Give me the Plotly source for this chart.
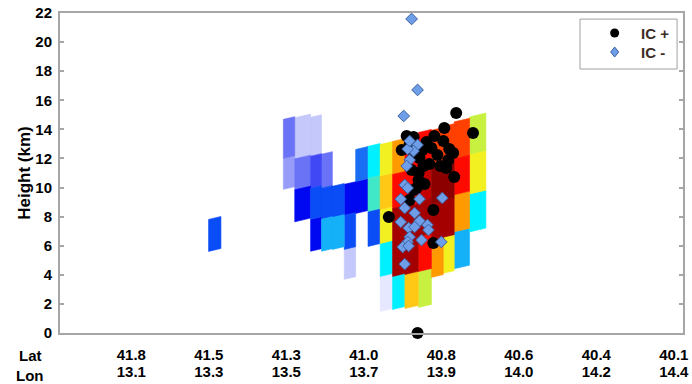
import plotly.graph_objects as go

# ---- axis labelling along the cross-section (distance in km) ----
tick_dist = [0.0, 31.3, 62.6, 93.9, 125.2, 156.5, 187.8, 219.1]
tick_lat = ["41.8", "41.5", "41.3", "41.0", "40.8", "40.6", "40.4", "40.1"]
tick_lon = ["13.1", "13.3", "13.5", "13.7", "13.9", "14.0", "14.2", "14.4"]

# ---- radar reflectivity columns ----
col_left = [31.2, 61.4, 66.0, 72.4, 76.8, 81.2, 86.0, 90.6, 95.6,
            100.5, 105.5, 110.5, 115.9, 121.2, 126.0, 130.4, 136.6]
col_right = [36.2, 66.0, 72.4, 76.8, 81.2, 86.0, 90.6, 95.6, 100.5,
             105.5, 110.5, 115.9, 121.2, 126.0, 130.4, 136.6, 143.2]
# cell boundaries (km, bottom to top) for each column
col_bounds = [
    [5.71, 7.91],
    [9.97, 12.10, 14.78],
    [7.77, 9.97, 12.10, 14.92],
    [5.71, 7.91, 10.04, 12.24, 14.92],
    [5.71, 7.91, 10.04, 12.38],
    [5.84, 8.04, 10.18],
    [3.78, 5.84, 8.18, 10.31],
    [8.32, 10.52, 12.72],
    [6.05, 8.46, 10.73, 12.93],
    [1.58, 3.99, 6.26, 8.59, 10.86, 13.06],
    [1.72, 3.99, 6.33, 8.66, 11.00, 13.27],
    [1.79, 4.13, 6.46, 8.80, 11.14, 13.48],
    [1.86, 4.33, 6.74, 9.14, 11.55, 13.89],
    [3.92, 6.39, 8.94, 11.48, 14.03],
    [4.19, 6.67, 9.21, 11.76, 14.30],
    [4.54, 7.08, 9.63, 12.10, 14.64],
    [7.08, 9.69, 12.38, 14.99],
]
# reflectivity (dBZ) of each cell, bottom to top
col_dbz = [
    [23],
    [11, 14],
    [20, 14, 8],
    [20, 23, 17, 8],
    [29, 23, 14],
    [29, 23],
    [8, 23, 20],
    [20, 26],
    [23, 35, 32],
    [5, 32, 41, 44, 41],
    [32, 59, 59, 53, 47],
    [44, 59, 59, 53, 53],
    [38, 53, 59, 56, 53],
    [47, 59, 62, 50],
    [41, 59, 62, 50],
    [29, 47, 53, 50],
    [32, 41, 38],
]

# ---- lightning sources (distance km, height km) ----
icp_dist = [115.6, 131.2, 126.4, 138.0, 111.2, 114.0, 122.4, 119.2, 126.0, 128.4,
            130.0, 128.0, 130.4, 112.4, 114.0, 116.4, 118.0, 120.4, 116.0, 116.0,
            115.2, 114.0, 112.4, 122.0, 104.0, 122.0, 109.2, 124.8, 127.2, 117.6,
            121.2, 118.4, 113.2, 123.6]
icp_h = [0.0, 15.13, 14.09, 13.75, 13.54, 13.48, 13.54, 13.13, 13.20, 12.65,
         12.38, 11.89, 10.73, 12.99, 12.38, 12.03, 11.48, 11.62, 11.00, 10.52,
         9.97, 9.83, 9.14, 8.46, 7.98, 6.19, 12.58, 11.48, 11.34, 12.58,
         12.72, 10.24, 11.21, 12.24]

icn_dist = [113.2, 115.6, 110.0, 115.6, 114.0, 111.6, 112.4, 111.2, 110.4, 111.6,
            108.8, 116.4, 125.6, 110.4, 114.4, 108.8, 116.4, 112.0, 114.4, 119.6,
            120.0, 112.4, 117.2, 111.6, 109.6, 112.0, 125.2, 110.4, 112.4]
icn_h = [21.59, 16.71, 14.92, 12.93, 12.51, 12.65, 11.89, 11.48, 10.18, 9.97,
         9.21, 9.21, 9.28, 8.59, 8.25, 7.63, 7.70, 7.22, 7.29, 7.43,
         7.08, 6.60, 6.39, 6.26, 5.91, 5.98, 6.26, 4.74, 13.20]

# ---- styling ----
dbz_levels = [5, 8, 11, 14, 17, 20, 23, 26, 29, 32, 35, 38, 41, 44, 47, 50, 53, 56, 59, 62]
palette = ["#e6e8ff", "#c4c8fa", "#969cf8", "#6a72f6", "#4048f6", "#0008f2", "#0a4cf6",
           "#1a6ef4", "#14b0f8", "#00f0ff", "#40e8c8", "#c8f040", "#f2f020", "#ffc814",
           "#ff9a00", "#ff4000", "#ff0a00", "#c40000", "#a40000", "#8c0000"]
TILT = 0.04          # slant of the cell boundaries (km per km)
FONT = "Liberation Sans, Arial, sans-serif"
FRAME = "#a6a6a6"
ICP_COLOR = "black"
ICN_COLOR, ICN_EDGE = "#6f9ee8", "#3d5f9e"
LEGEND_TEXT = "#3d2b1f"

fig = go.Figure()

# reflectivity cells as slanted quadrilaterals, grouped by colour level
polys = {i: ([], []) for i in range(len(palette))}
for xl, xr, bnds, vals in zip(col_left, col_right, col_bounds, col_dbz):
    half = (xr - xl) / 2 * TILT
    for lo, hi, v in zip(bnds[:-1], bnds[1:], vals):
        k = min(range(len(dbz_levels)), key=lambda j: abs(dbz_levels[j] - v))
        xs, ys = polys[k]
        xs += [xl, xr, xr, xl, xl, None]
        ys += [lo - half, lo + half, hi + half, hi - half, lo - half, None]

for k, (xs, ys) in polys.items():
    if not xs:
        continue
    fig.add_trace(go.Scatter(
        x=xs, y=ys, mode="lines", fill="toself", fillcolor=palette[k],
        line=dict(color=palette[k], width=0.6), hoverinfo="skip", showlegend=False))

fig.add_trace(go.Scatter(
    x=icp_dist, y=icp_h, mode="markers", name="IC +", cliponaxis=False,
    showlegend=False,
    marker=dict(symbol="circle", size=12, color=ICP_COLOR, line=dict(width=0))))
fig.add_trace(go.Scatter(
    x=icn_dist, y=icn_h, mode="markers", name="IC -", cliponaxis=False,
    showlegend=False,
    marker=dict(symbol="diamond", size=9, color=ICN_COLOR,
                line=dict(color=ICN_EDGE, width=1))))

# helper trace so the second (longitude) label axis is drawn
fig.add_trace(go.Scatter(x=[None], y=[None], xaxis="x2", showlegend=False,
                         hoverinfo="skip"))

xrange = [-28.8, 222.8]
tickfont = dict(family=FONT, size=15, color="black", weight="bold")

fig.update_layout(
    width=692, height=384,
    margin=dict(l=60, r=3, t=13, b=51),
    paper_bgcolor="white", plot_bgcolor="white",
    showlegend=False,
    xaxis=dict(range=xrange, tickmode="array", tickvals=tick_dist, ticktext=tick_lat,
               showline=True, mirror=True, linecolor=FRAME, linewidth=2,
               ticks="", showgrid=False, zeroline=False, tickfont=tickfont,
               ticklabelstandoff=7, ticklabeloverflow="allow"),
    xaxis2=dict(range=xrange, overlaying="x", side="bottom", anchor="y",
                tickmode="array", tickvals=tick_dist, ticktext=tick_lon,
                showline=False, ticks="", showgrid=False, zeroline=False,
                tickfont=tickfont, ticklabelstandoff=28, ticklabeloverflow="allow"),
    yaxis=dict(range=[0, 22], dtick=2, showline=True, mirror="ticks",
               linecolor=FRAME, linewidth=2, ticks="inside", ticklen=4,
               tickcolor=FRAME, tickwidth=1.5, showgrid=False, zeroline=False,
               tickfont=tickfont, ticklabelstandoff=3,
               title=dict(text="Height (km)", standoff=0,
                          font=dict(family=FONT, size=17, color="black", weight="bold"))),
)

# legend: frame, symbols and labels
fig.add_shape(type="rect", xref="paper", yref="paper", layer="above",
              x0=0.8347, x1=0.9905, y0=0.825, y1=0.981,
              fillcolor="white", line=dict(color="#a0a0a0", width=1))
fig.add_shape(type="circle", xref="paper", yref="paper", layer="above",
              xsizemode="pixel", ysizemode="pixel", xanchor=0.8903, yanchor=0.9375,
              x0=-4.5, x1=4.5, y0=-4.5, y1=4.5,
              fillcolor=ICP_COLOR, line=dict(width=0))
fig.add_shape(type="path", xref="paper", yref="paper", layer="above",
              xsizemode="pixel", ysizemode="pixel", xanchor=0.8903, yanchor=0.878,
              path="M 0 5 L 4 0 L 0 -5 L -4 0 Z",
              fillcolor=ICN_COLOR, line=dict(color=ICN_EDGE, width=1))
for txt, ypos in (("IC +", 0.9375), ("IC -", 0.878)):
    fig.add_annotation(text=txt, xref="paper", yref="paper", x=0.9293, y=ypos,
                       xanchor="left", yanchor="middle", showarrow=False,
                       font=dict(family=FONT, size=15, color=LEGEND_TEXT, weight="bold"))

for txt, ypos in (("Lat", -0.069), ("Lon", -0.134)):
    fig.add_annotation(text=txt, xref="paper", yref="paper", x=-0.048, y=ypos,
                       xanchor="center", yanchor="middle", showarrow=False,
                       font=tickfont)

fig.write_html("out.html")
